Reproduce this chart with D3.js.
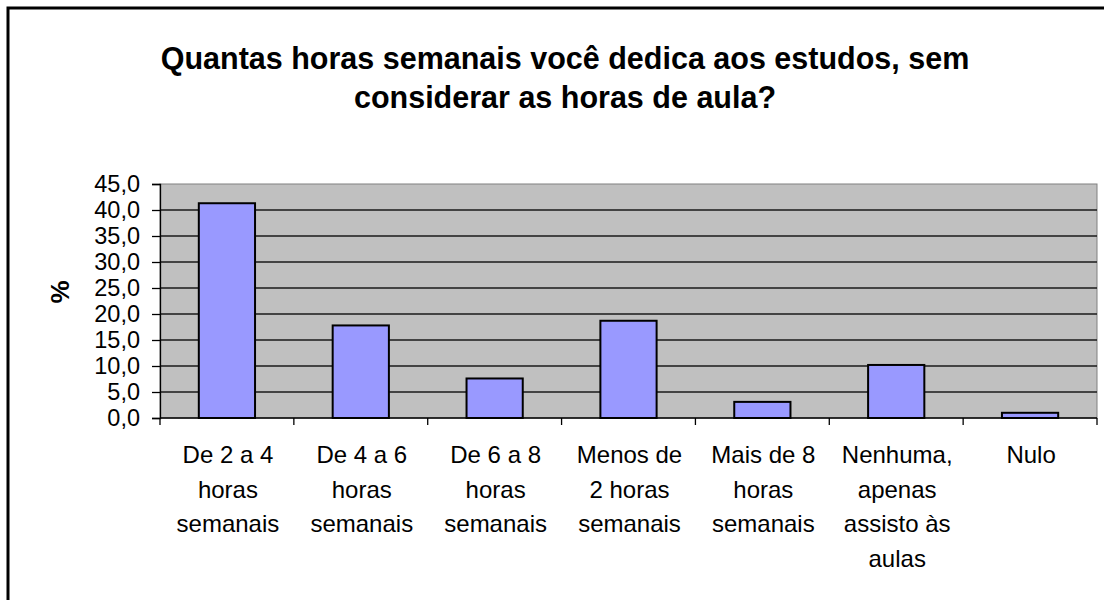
<!DOCTYPE html>
<html>
<head>
<meta charset="utf-8">
<script src="https://cdn.jsdelivr.net/npm/d3@7"></script>
<style>
  body { margin: 0; background: #fff; }
  text { font-family: "Liberation Sans", Arial, sans-serif; fill: #000; }
</style>
</head>
<body>
<svg width="1104" height="600"></svg>
<script>
var categories = [
    ["De 2 a 4", "horas", "semanais"],
    ["De 4 a 6", "horas", "semanais"],
    ["De 6 a 8", "horas", "semanais"],
    ["Menos de", "2 horas", "semanais"],
    ["Mais de 8", "horas", "semanais"],
    ["Nenhuma,", "apenas", "assisto às", "aulas"],
    ["Nulo"]
];
var values = [41.3, 17.8, 7.6, 18.7, 3.1, 10.2, 1.0];
var yTicks = [0, 5, 10, 15, 20, 25, 30, 35, 40, 45];
var titleLines = ["Quantas horas semanais você dedica aos estudos, sem", "considerar as horas de aula?"];

var svg = d3.select("svg");

// outer chart frame (runs off the right and bottom edges)
svg.append("rect")
    .attr("x", 8).attr("y", 8)
    .attr("width", 1200).attr("height", 700)
    .attr("fill", "#fff")
    .attr("stroke", "#000")
    .attr("stroke-width", 3);

var plot = { left: 160, right: 1097, top: 184, bottom: 418 };

var x = d3.scaleBand()
    .domain(d3.range(categories.length))
    .range([plot.left, plot.right])
    .padding(0);

var y = d3.scaleLinear()
    .domain([0, 45])
    .range([plot.bottom, plot.top]);

// plot background
svg.append("rect")
    .attr("x", plot.left).attr("y", plot.top)
    .attr("width", plot.right - plot.left)
    .attr("height", plot.bottom - plot.top)
    .attr("fill", "#c0c0c0")
    .attr("stroke", "#808080")
    .attr("stroke-width", 1);

// gridlines
svg.append("g")
    .selectAll("line")
    .data(yTicks.filter(function(d) { return d > 0 && d < 45; }))
    .enter().append("line")
    .attr("x1", plot.left).attr("x2", plot.right)
    .attr("y1", function(d) { return y(d); })
    .attr("y2", function(d) { return y(d); })
    .attr("stroke", "#1a1a1a")
    .attr("stroke-width", 1.3);

// bars
var barW = x.bandwidth() * 0.42;
svg.append("g")
    .selectAll("rect")
    .data(values).enter()
    .append("rect")
    .attr("x", function(d, i) { return x(i) + (x.bandwidth() - barW) / 2; })
    .attr("y", function(d) { return y(d); })
    .attr("width", barW)
    .attr("height", function(d) { return y(0) - y(d); })
    .attr("fill", "#9999ff")
    .attr("stroke", "#000")
    .attr("stroke-width", 2);

// y axis
var yAxis = d3.axisLeft(y)
    .tickValues(yTicks)
    .tickSize(8)
    .tickPadding(12)
    .tickFormat(function(d) { return d3.format(".1f")(d).replace(".", ","); });

var gy = svg.append("g")
    .attr("transform", "translate(" + plot.left + ",0)")
    .call(yAxis);
gy.select(".domain").attr("stroke", "#000").attr("stroke-width", 1.3);
gy.selectAll(".tick line").attr("stroke", "#000").attr("stroke-width", 1.3);
gy.selectAll(".tick text")
    .style("font-family", "Liberation Sans, Arial, sans-serif")
    .style("font-size", "23.5px")
    .attr("fill", "#000");

// x axis baseline and category ticks
var xTicks = d3.range(categories.length + 1).map(function(i) {
    return plot.left + i * x.step();
});
svg.append("line")
    .attr("x1", plot.left).attr("x2", plot.right)
    .attr("y1", plot.bottom).attr("y2", plot.bottom)
    .attr("stroke", "#000").attr("stroke-width", 1.5);
svg.append("g")
    .selectAll("line")
    .data(xTicks).enter()
    .append("line")
    .attr("x1", function(d) { return d; })
    .attr("x2", function(d) { return d; })
    .attr("y1", plot.bottom).attr("y2", plot.bottom + 7)
    .attr("stroke", "#000").attr("stroke-width", 1.3);

// category labels
var labels = svg.append("g")
    .selectAll("text")
    .data(categories).enter()
    .append("text")
    .attr("text-anchor", "middle")
    .style("font-size", "24px");

labels.selectAll("tspan")
    .data(function(d, i) { return d.map(function(s) { return { s: s, i: i }; }); })
    .enter().append("tspan")
    .attr("x", function(d) { return x(d.i) + x.bandwidth() / 2 + 1; })
    .attr("y", function(d, j) { return 463 + j * 34.7; })
    .text(function(d) { return d.s; });

// y axis title
svg.append("text")
    .attr("transform", "translate(69,292) rotate(-90)")
    .attr("text-anchor", "middle")
    .style("font-size", "26px")
    .style("font-weight", "bold")
    .text("%");

// chart title
svg.append("g")
    .selectAll("text")
    .data(titleLines).enter()
    .append("text")
    .attr("x", 565)
    .attr("y", function(d, i) { return 69 + i * 39; })
    .attr("text-anchor", "middle")
    .style("font-size", "30.5px")
    .style("font-weight", "bold")
    .text(function(d) { return d; });
</script>
</body>
</html>
